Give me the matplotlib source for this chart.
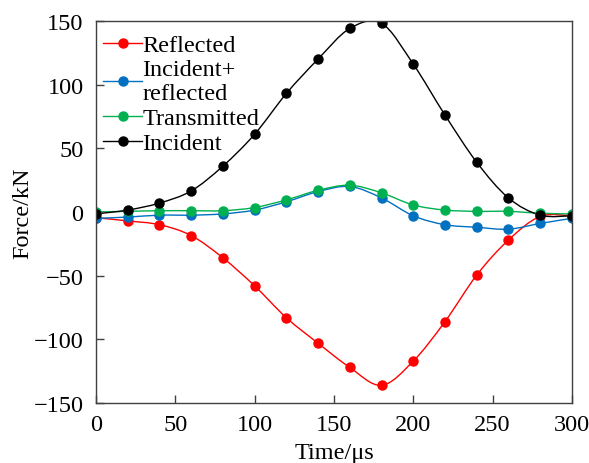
import matplotlib.pyplot as plt
import numpy as np
from matplotlib.lines import Line2D
from matplotlib.patches import PathPatch
from matplotlib.path import Path

plt.rcParams["font.family"] = ["Liberation Serif", "DejaVu Serif"]

time_us = np.arange(0, 301, 20)
reflected = [-4.5, -7, -10, -18.5, -36, -58, -83, -103, -122, -136, -117, -86, -49.5, -22, -3.5, -3]
inc_plus_ref = [-5, -4, -2.5, -2.5, -1.5, 1.5, 8, 16, 20, 11, -3, -10, -12, -13.5, -9, -5]
transmitted = [0, 0.5, 1, 1, 1, 3.5, 9.5, 17, 21, 15, 5.5, 1.5, 0.5, 0.5, -1, -1.5]
incident = [-1.5, 1.5, 7, 16.5, 36, 61, 93, 120, 144, 148, 116, 76, 39, 11, -2.5, -3]

SERIES = [
    ("Reflected", reflected, "#ff0000"),
    ("Incident+\nreflected", inc_plus_ref, "#0070c0"),
    ("Transmitted", transmitted, "#00b050"),
    ("Incident", incident, "#000000"),
]


def smooth_path(x, y):
    # Catmull-Rom style bezier through the points (like spreadsheet smoothing)
    p = np.column_stack([x, y]).astype(float)
    n = len(p)
    verts = [p[0]]
    codes = [Path.MOVETO]
    for i in range(n - 1):
        p0 = p[max(i - 1, 0)]
        p1, p2 = p[i], p[i + 1]
        p3 = p[min(i + 2, n - 1)]
        verts += [p1 + (p2 - p0) / 6, p2 - (p3 - p1) / 6, p2]
        codes += [Path.CURVE4] * 3
    return Path(verts, codes)


fig = plt.figure(figsize=(5.89, 4.64), dpi=100)
ax = fig.add_axes([0.163, 0.129, 0.808, 0.824])

handles = []
for label, vals, color in SERIES:
    ax.add_patch(PathPatch(smooth_path(time_us, vals), fill=False,
                           edgecolor=color, lw=1.0))
    ax.plot(time_us, vals, "o", color=color, ms=6.5)
    handles.append(Line2D([], [], color=color, lw=1.0, marker="o", ms=6.5))

ax.set_xlim(0, 300)
ax.set_ylim(-150, 150)
ax.set_xticks(np.arange(0, 301, 50))
ax.set_yticks(np.arange(-150, 151, 50))
ax.tick_params(direction="in", length=6, labelsize=17.5, width=1,
               color="#404040")
ax.tick_params(axis="x", pad=8)
ax.tick_params(axis="y", pad=9)
ax.set_yticklabels([f"{v}".replace("-", "\u2212") for v in range(-150, 151, 50)])
for s in ax.spines.values():
    s.set_linewidth(1)
    s.set_color("#404040")
ax.set_xlabel("Time/\u03bcs", fontsize=17.5, labelpad=5)
ax.set_ylabel("Force/kN", fontsize=17.5, labelpad=0)

ax.legend(handles, [s[0] for s in SERIES], loc="upper left",
          bbox_to_anchor=(-0.005, 0.99), frameon=False, fontsize=17.5,
          handlelength=1.6, handletextpad=0.0, labelspacing=0.12,
          borderaxespad=0.1, borderpad=0.3)

fig.savefig("out.png", dpi=100)
